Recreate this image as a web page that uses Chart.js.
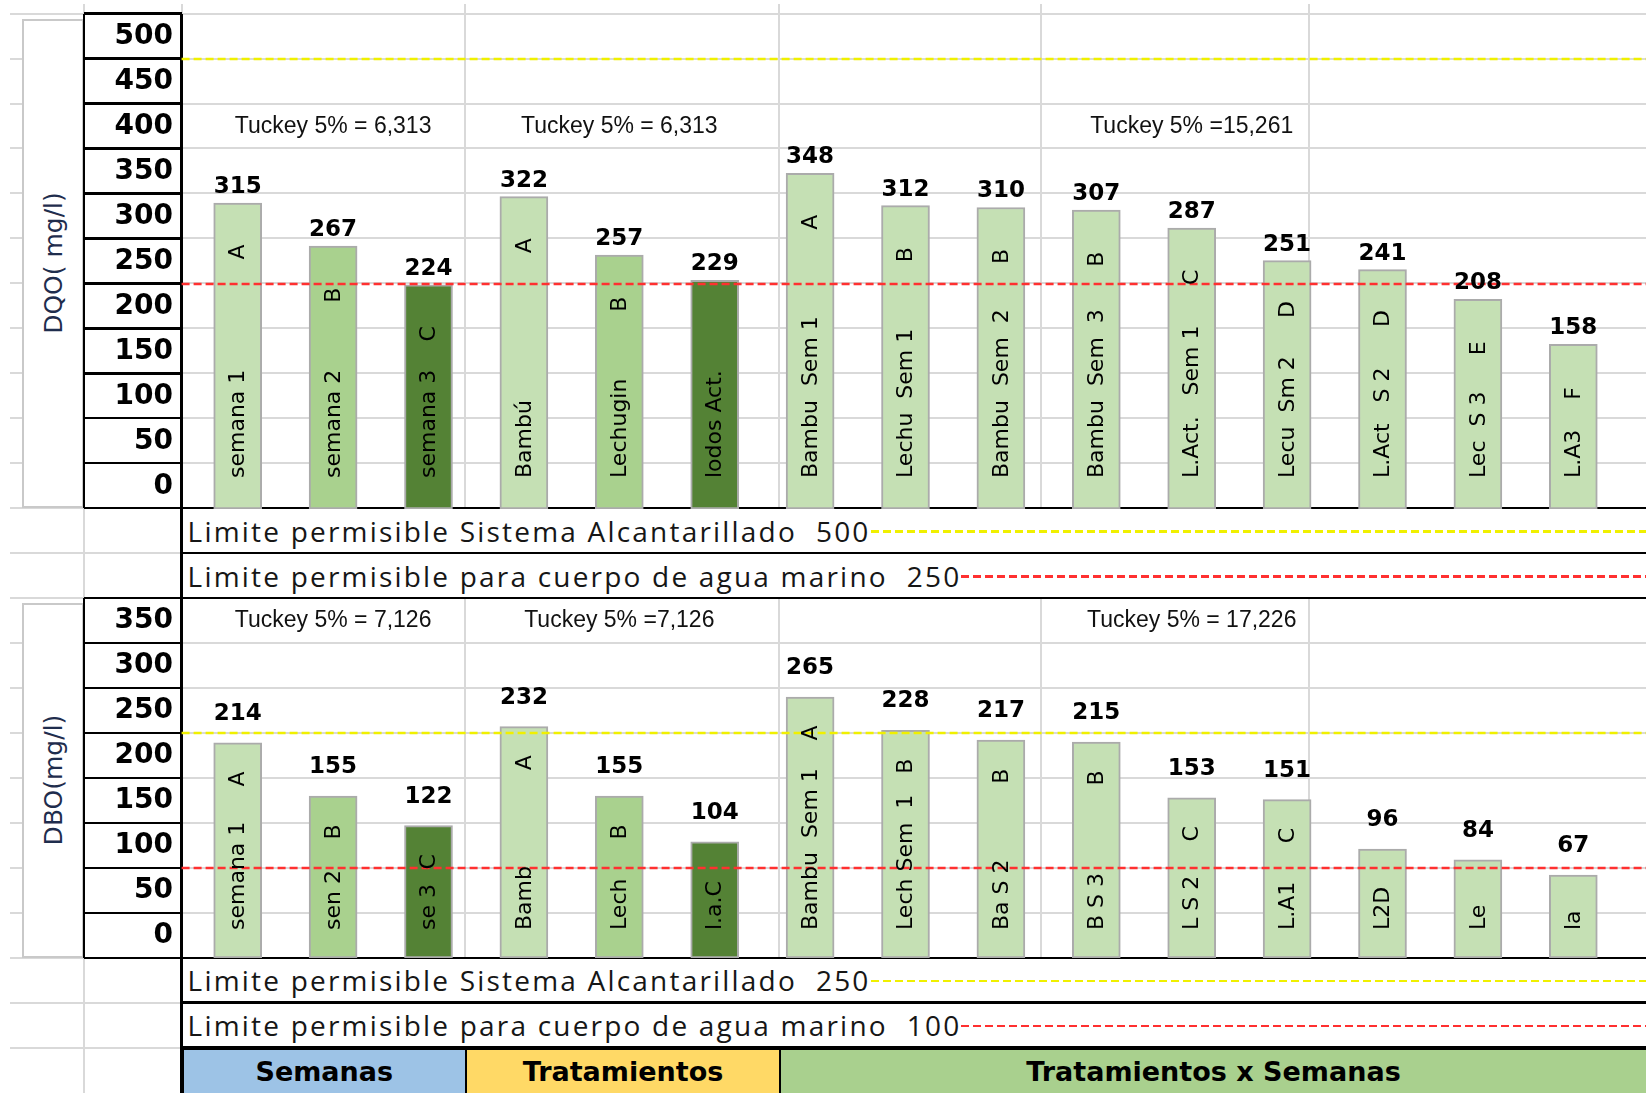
<!DOCTYPE html>
<html>
<head>
<meta charset="utf-8">
<script src="https://cdn.jsdelivr.net/npm/chart.js@4.4.1/dist/chart.umd.min.js"></script>
<style>
html,body{margin:0;padding:0;background:#fff;}
#page{position:relative;width:1646px;height:1093px;overflow:hidden;background:#fff;}
.abs{position:absolute;box-sizing:border-box;}
canvas{position:absolute;}
</style>
</head>
<body>
<div id="page"></div>
<script>
// ---------------- DATA ----------------
const categories = ['semana 1','semana 2','semana 3','Bambú','Lechugin','lodos Act.',
  'Bambu Sem 1','Lechu Sem 1','Bambu Sem 2','Bambu Sem 3','L.Act. Sem 1','Lecu Sm 2','L.Act S 2','Lec S 3','L.A3'];

const dqoValues = [315, 267, 224, 322, 257, 229, 348, 312, 310, 307, 287, 251, 241, 208, 158];
const dboValues = [214, 155, 122, 232, 155, 104, 265, 228, 217, 215, 153, 151, 96, 84, 67];

const dqoBarNames = ['semana 1','semana 2','semana 3','Bambú','Lechugin','lodos Act.',
  'Bambu  Sem 1','Lechu  Sem 1','Bambu  Sem  2','Bambu  Sem  3','L.Act.   Sem 1','Lecu  Sm 2','L.Act   S 2','Lec  S 3','L.A3'];
const dqoLetters = ['A','B','C','A','B','','A','B','B','B','C','D','D','E','F'];

const dboBarNames = ['semana 1','sen 2','se 3','Bamb','Lech','l.a.C',
  'Bambu  Sem 1','Lech Sem  1','Ba S 2','B S 3','L S 2','L.A1','L2D','Le','la'];
const dboLetters = ['A','B','C','A','B','','A','B','B','B','C','C','','',''];

const dqoTicks = [0, 50, 100, 150, 200, 250, 300, 350, 400, 450, 500];
const dboTicks = [0, 50, 100, 150, 200, 250, 300, 350];

const limitNames = ['Limite permisible Sistema Alcantarillado', 'Limite permisible para cuerpo de agua marino'];
const dqoLimits = [500, 250];
const dboLimits = [250, 100];

const dqoTuckey = ['Tuckey 5% = 6,313', 'Tuckey 5% = 6,313', 'Tuckey 5% =15,261'];
const dboTuckey = ['Tuckey 5% = 7,126', 'Tuckey 5% =7,126', 'Tuckey 5% = 17,226'];
const dqoTuckeyLevel = 400;
const dboTuckeyLevel = 350;

const groupNames = ['Semanas', 'Tratamientos', 'Tratamientos x Semanas'];
const groupRanges = [[0, 2], [3, 5], [6, 14]];

const dqoTitle = 'DQO( mg/l)';
const dboTitle = 'DBO(mg/l)';

// ---------------- LAYOUT / STYLE ----------------
const ROW = 44.96, TOP = 13.6, W = 1646, H = 1093;
const X_LEFT = 10, X_BOX = 22, X_TICK = 84, X_PLOT = 181.6;
const COL_LINES = [465, 779, 1041, 1309];
const HEADER_EDGES = [181.6, 465, 779, 1646];
const HEADER_COLORS = ['#9DC3E6', '#FFD966', '#A9D08E'];
const LIMIT_COLORS = ['#F0F000', '#FF3030'];
const SHADES = ['#C5E0B4', '#A9D18E', '#548235'];
const rowY = i => TOP + ROW * i;

const page = document.getElementById('page');
function box(x, y, w, h, style) {
  const d = document.createElement('div');
  d.className = 'abs';
  Object.assign(d.style, {left: x + 'px', top: y + 'px', width: w + 'px', height: h + 'px'}, style || {});
  page.appendChild(d);
  return d;
}
function hline(x1, x2, y, color, w) { return box(x1, y - w / 2, x2 - x1, w, {background: color}); }
function vline(x, y1, y2, color, w) { return box(x - w / 2, y1, w, y2 - y1, {background: color}); }

const GRAY = '#D9D9D9', BLACK = '#000';
// light spreadsheet grid
for (let i = 0; i <= 23; i++) hline(X_LEFT, W, rowY(i), GRAY, 2);
vline(X_TICK, 4, H, GRAY, 2);
vline(X_PLOT, 4, TOP, GRAY, 2);
COL_LINES.forEach(x => vline(x, 4, H, GRAY, 2));

// white text rows (cover vertical grid)
[11, 12, 21, 22].forEach(r => box(X_PLOT, rowY(r), W - X_PLOT, ROW, {background: '#fff'}));

// axis title boxes
function titleBox(r0, r1, title) {
  const b = box(X_BOX, rowY(r0) + 5, X_TICK - X_BOX, rowY(r1) - rowY(r0) - 5,
    {background: '#fff', border: '2px solid #C9C9C9'});
  const t = document.createElement('div');
  Object.assign(t.style, {position: 'absolute', left: '50%', top: '50%', transform: 'translate(-50%,-50%) rotate(-90deg)',
    whiteSpace: 'pre', font: '25px "DejaVu Sans"', color: '#1F2D4D'});
  t.textContent = title;
  b.appendChild(t);
}
titleBox(0, 11, dqoTitle);
titleBox(13, 21, dboTitle);

// header cells
groupNames.forEach((g, i) => {
  const c = box(HEADER_EDGES[i], rowY(23), HEADER_EDGES[i + 1] - HEADER_EDGES[i] + 2, H - rowY(23) + 2,
    {background: HEADER_COLORS[i], border: '2px solid #000', display: 'flex', alignItems: 'center', justifyContent: 'center',
     font: 'bold 27px "DejaVu Sans"', color: '#000', whiteSpace: 'pre'});
  c.textContent = g;
});

// black rule lines
const BW = 2.5;
vline(X_TICK, rowY(0), rowY(11), BLACK, BW);
vline(X_TICK, rowY(13), rowY(21), BLACK, BW);
vline(X_PLOT, rowY(0), H, BLACK, BW);
for (let i = 0; i <= 11; i++) hline(X_TICK, X_PLOT, rowY(i), BLACK, BW);
for (let i = 13; i <= 21; i++) hline(X_TICK, X_PLOT, rowY(i), BLACK, BW);
[11, 13, 21].forEach(r => hline(X_TICK, W, rowY(r), BLACK, BW));
[12, 22, 23].forEach(r => hline(X_PLOT, W, rowY(r), BLACK, BW));

// limit legend rows
function limitRow(r, name, value, color) {
  const row = box(X_PLOT + 6, rowY(r) + 2, W - X_PLOT - 6, ROW - 4,
    {display: 'flex', alignItems: 'center'});
  const s = document.createElement('span');
  Object.assign(s.style, {font: '28px "Open Sans"', letterSpacing: '2.2px', color: '#161616', whiteSpace: 'pre', lineHeight: '1'});
  s.textContent = name + '  ' + value;
  const l = document.createElement('div');
  Object.assign(l.style, {flex: '1', height: '2.5px', marginTop: '2px',
    background: `repeating-linear-gradient(to right, ${color} 0 8px, transparent 8px 12px)`});
  row.appendChild(s); row.appendChild(l);
}
limitNames.forEach((n, i) => limitRow(11 + i, n, dqoLimits[i], LIMIT_COLORS[i]));
limitNames.forEach((n, i) => limitRow(21 + i, n, dboLimits[i], LIMIT_COLORS[i]));

// ---------------- CHARTS ----------------
function shadeFor(i) {
  const g = groupRanges.findIndex(([a, b]) => i >= a && i <= b);
  return g < 2 ? SHADES[i - groupRanges[g][0]] : SHADES[0];
}

const overlay = {
  id: 'overlay',
  afterDatasetsDraw(chart, args, o) {
    const ctx = chart.ctx, xs = chart.scales.x, ys = chart.scales.y, area = chart.chartArea;
    const meta = chart.getDatasetMeta(0);
    const values = chart.data.datasets[0].data;
    ctx.save();
    // limit lines
    o.limits.forEach((v, i) => {
      const py = ys.getPixelForValue(v - o.lineShift);
      ctx.strokeStyle = LIMIT_COLORS[i];
      ctx.lineWidth = 2.5;
      ctx.setLineDash([8, 4]);
      ctx.beginPath();
      ctx.moveTo(area.left - 8.4, py);
      ctx.lineTo(chart.width, py);
      ctx.stroke();
    });
    ctx.setLineDash([]);
    ctx.fillStyle = '#000';
    meta.data.forEach((bar, i) => {
      // rotated name
      ctx.save();
      ctx.translate(bar.x, bar.base - o.nameOffset);
      ctx.rotate(-Math.PI / 2);
      ctx.font = '22px "DejaVu Sans"';
      ctx.textAlign = 'left';
      ctx.textBaseline = 'middle';
      ctx.fillText(o.names[i], 0, 1);
      ctx.restore();
      if (o.letters[i]) {
        ctx.save();
        ctx.translate(bar.x, bar.y + o.letterGap);
        ctx.rotate(-Math.PI / 2);
        ctx.font = '22px "DejaVu Sans"';
        ctx.textAlign = 'center';
        ctx.textBaseline = 'middle';
        ctx.fillText(o.letters[i], 0, 1);
        ctx.restore();
      }
      // value label
      ctx.font = 'bold 23px "DejaVu Sans"';
      ctx.textAlign = 'center';
      ctx.textBaseline = 'middle';
      ctx.fillText(String(values[i]), bar.x, bar.y - o.labelGap);
    });
    // Tuckey notes
    ctx.font = '23px "Liberation Sans"';
    ctx.fillStyle = '#111';
    o.tuckey.forEach((t, g) => {
      const [a, b] = groupRanges[g];
      const cx = (xs.getPixelForValue(a) + xs.getPixelForValue(b)) / 2;
      ctx.fillText(t, cx, ys.getPixelForValue(o.tuckeyLevel));
    });
    ctx.restore();
  }
};

function makeChart(rowStart, rowCount, values, ticks, limits, names, letters, tuckey, tuckeyLevel, nameOffset, letterGap, labelGap) {
  const cv = document.createElement('canvas');
  const w = W - X_TICK, h = Math.round(ROW * rowCount);
  cv.width = w; cv.height = h;
  cv.style.left = X_TICK + 'px';
  cv.style.top = rowY(rowStart) + 'px';
  cv.style.width = w + 'px';
  cv.style.height = h + 'px';
  page.appendChild(cv);
  const step = ticks[1] - ticks[0];
  new Chart(cv, {
    type: 'bar',
    data: {
      labels: categories,
      datasets: [{
        data: values,
        base: ticks[0] - step / 2,
        backgroundColor: values.map((v, i) => shadeFor(i)),
        borderColor: '#ABABAB',
        borderWidth: 2,
        borderSkipped: false,
        barThickness: 48
      }]
    },
    options: {
      responsive: false,
      animation: false,
      devicePixelRatio: 1,
      layout: {padding: {left: 0, right: 25, top: 0, bottom: 0}},
      plugins: {
        legend: {display: false},
        tooltip: {enabled: false},
        overlay: {limits, names, letters, tuckey, tuckeyLevel, lineShift: step / 2, nameOffset, letterGap, labelGap}
      },
      scales: {
        x: {display: false, offset: true},
        y: {
          min: ticks[0] - step / 2,
          max: ticks[ticks.length - 1] + step / 2,
          afterBuildTicks: s => { s.ticks = ticks.map(v => ({value: v})); },
          afterFit: s => { s.width = X_PLOT - X_TICK + 8.4; s.paddingTop = 0; s.paddingBottom = 0; },
          grid: {display: false, drawTicks: false},
          border: {display: false},
          ticks: {font: {family: 'DejaVu Sans', size: 28, weight: 'bold'}, color: '#000', padding: 17}
        }
      }
    },
    plugins: [overlay]
  });
}

makeChart(0, 11, dqoValues, dqoTicks, dqoLimits, dqoBarNames, dqoLetters, dqoTuckey, dqoTuckeyLevel, 31, 49, 16);
makeChart(13, 8, dboValues, dboTicks, dboLimits, dboBarNames, dboLetters, dboTuckey, dboTuckeyLevel, 28, 36, 29);
</script>
</body>
</html>
